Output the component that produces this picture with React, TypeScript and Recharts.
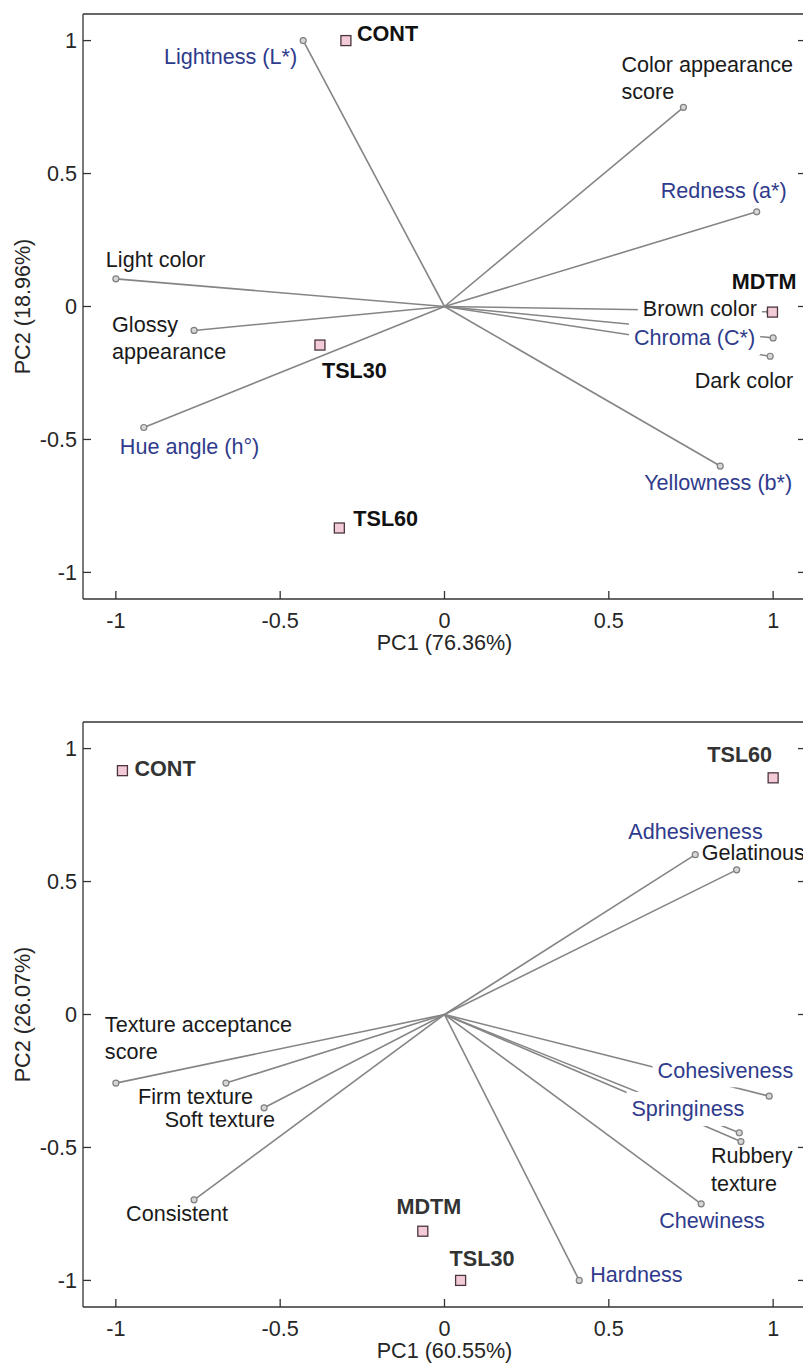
import React from 'react';
import { ScatterChart, Scatter, XAxis, YAxis, ReferenceLine } from 'recharts';

// ---- colour biplot (top) ----
const colorVars = [
  'Lightness (L*)', 'Color appearance\nscore', 'Redness (a*)', 'Light color', 'Glossy\nappearance',
  'Hue angle (h°)', 'Brown color', 'Chroma (C*)', 'Dark color', 'Yellowness (b*)',
];
const colorVarPC1 = [-0.43, 0.727, 0.95, -1.0, -0.762, -0.915, 0.99, 1.0, 0.991, 0.839];
const colorVarPC2 = [1.0, 0.749, 0.356, 0.104, -0.09, -0.455, -0.02, -0.118, -0.187, -0.6];
const colorVarKind = ['instrumental', 'sensory', 'instrumental', 'sensory', 'sensory',
  'instrumental', 'sensory', 'instrumental', 'sensory', 'instrumental'];

const colorSamples = ['CONT', 'MDTM', 'TSL30', 'TSL60'];
const colorSamplePC1 = [-0.3, 0.998, -0.379, -0.32];
const colorSamplePC2 = [1.0, -0.021, -0.145, -0.833];

// ---- texture biplot (bottom) ----
const textureVars = [
  'Adhesiveness', 'Gelatinous', 'Texture acceptance\nscore', 'Firm texture', 'Soft texture',
  'Consistent', 'Cohesiveness', 'Springiness', 'Rubbery\ntexture', 'Chewiness', 'Hardness',
];
const textureVarPC1 = [0.763, 0.889, -1.0, -0.665, -0.549, -0.762, 0.988, 0.897, 0.902, 0.781, 0.41];
const textureVarPC2 = [0.601, 0.544, -0.258, -0.258, -0.351, -0.697, -0.307, -0.445, -0.478, -0.712, -1.0];
const textureVarKind = ['instrumental', 'sensory', 'sensory', 'sensory', 'sensory',
  'sensory', 'instrumental', 'instrumental', 'sensory', 'instrumental', 'instrumental'];

const textureSamples = ['CONT', 'TSL60', 'MDTM', 'TSL30'];
const textureSamplePC1 = [-0.98, 1.0, -0.066, 0.049];
const textureSamplePC2 = [0.917, 0.89, -0.815, -1.0];

const axisTicks = [-1, -0.5, 0, 0.5, 1];

const FONT = '"Liberation Sans", Arial, Helvetica, sans-serif';
const FS = 21.6;
const LINE_H = 27.5;
const BLUE = '#2f3b8c';
const INK = '#1a1a1a';
const AXIS = '#333333';
const VEC = '#858585';

type Place = { a: 'start' | 'end' | 'middle'; dx: number; dy: number; bg?: boolean };

// label placement relative to each point (pixels)
const colorVarPlace: Record<string, Place> = {
  'Lightness (L*)': { a: 'end', dx: -6, dy: 16 },
  'Color appearance\nscore': { a: 'start', dx: -62, dy: -43 },
  'Redness (a*)': { a: 'end', dx: 30, dy: -21 },
  'Light color': { a: 'start', dx: -10, dy: -19 },
  'Glossy\nappearance': { a: 'start', dx: -82, dy: -6 },
  'Hue angle (h°)': { a: 'start', dx: -24, dy: 19 },
  'Brown color': { a: 'end', dx: -13, dy: -3, bg: true },
  'Chroma (C*)': { a: 'end', dx: -18, dy: 0, bg: true },
  'Dark color': { a: 'end', dx: 23, dy: 24 },
  'Yellowness (b*)': { a: 'end', dx: 72, dy: 16 },
};
const colorSamplePlace: Record<string, Place> = {
  CONT: { a: 'start', dx: 11, dy: -7 },
  MDTM: { a: 'end', dx: 24, dy: -31 },
  TSL30: { a: 'start', dx: 2, dy: 25 },
  TSL60: { a: 'start', dx: 14, dy: -10 },
};
const textureVarPlace: Record<string, Place> = {
  Adhesiveness: { a: 'start', dx: -67, dy: -23 },
  Gelatinous: { a: 'start', dx: -35, dy: -17 },
  'Texture acceptance\nscore': { a: 'start', dx: -11, dy: -59 },
  'Firm texture': { a: 'start', dx: -88, dy: 13 },
  'Soft texture': { a: 'end', dx: 11, dy: 12 },
  Consistent: { a: 'start', dx: -68, dy: 14 },
  Cohesiveness: { a: 'end', dx: 24, dy: -26, bg: true },
  Springiness: { a: 'end', dx: 5, dy: -24, bg: true },
  'Rubbery\ntexture': { a: 'start', dx: -30, dy: 14 },
  Chewiness: { a: 'start', dx: -42, dy: 17 },
  Hardness: { a: 'start', dx: 11, dy: -6 },
};
const textureSamplePlace: Record<string, Place> = {
  CONT: { a: 'start', dx: 12, dy: -2 },
  TSL60: { a: 'end', dx: -1, dy: -23 },
  MDTM: { a: 'middle', dx: 6, dy: -25 },
  TSL30: { a: 'start', dx: -11, dy: -22 },
};

let measureCtx: CanvasRenderingContext2D | null = null;
function textWidth(s: string, weight: string) {
  if (!measureCtx) measureCtx = document.createElement('canvas').getContext('2d');
  if (!measureCtx) return s.length * FS * 0.52;
  measureCtx.font = `${weight} ${FS}px ${FONT}`;
  return measureCtx.measureText(s).width;
}

function makeLabel(place: Record<string, Place>, bold: boolean, sampleColor: string) {
  return (props: any) => {
    const { cx, cy, payload } = props;
    const p = place[payload.name];
    if (!p) return <g />;
    const lines: string[] = payload.name.split('\n');
    const x = cx + p.dx;
    const base = cy + p.dy + 0.35 * FS;
    const weight = bold ? 'bold' : 'normal';
    const fill = bold ? sampleColor : payload.kind === 'instrumental' ? BLUE : INK;
    let bg = null;
    if (p.bg) {
      const w = Math.max(...lines.map((l) => textWidth(l, weight)));
      const left = p.a === 'start' ? x : p.a === 'end' ? x - w : x - w / 2;
      const pad = 5;
      bg = (
        <rect x={left - pad} y={base - 0.905 * FS - pad} width={w + pad * 2}
          height={(lines.length - 1) * LINE_H + 1.117 * FS + pad * 2} fill="#fff" />
      );
    }
    return (
      <g>
        {bg}
        <text textAnchor={p.a} fontSize={FS} fontWeight={weight} fill={fill} fontFamily={FONT}>
          {lines.map((l, i) => (
            <tspan key={i} x={x} y={base + i * LINE_H}>{l}</tspan>
          ))}
        </text>
      </g>
    );
  };
}

const endCircle = (props: any) => (
  <circle cx={props.cx} cy={props.cy} r={3} fill="#d6d6d6" stroke="#7f7f7f" strokeWidth={1.2} />
);
const sampleSquare = (props: any) => (
  <rect x={props.cx - 5} y={props.cy - 5} width={10} height={10} fill="#f3cbd6" stroke="#4b3540" strokeWidth={1.3} />
);

interface BiplotProps {
  vars: string[]; pc1: number[]; pc2: number[]; kinds: string[];
  samples: string[]; s1: number[]; s2: number[];
  varPlace: Record<string, Place>; samplePlace: Record<string, Place>;
  xLabel: string; yLabel: string; top: number; bottom: number; sampleColor: string;
}

function Biplot(props: BiplotProps) {
  const { vars, pc1, pc2, kinds, samples, s1, s2, varPlace, samplePlace, xLabel, yLabel, top, bottom, sampleColor } = props;
  const varData = vars.map((name, i) => ({ name, x: pc1[i], y: pc2[i], kind: kinds[i] }));
  const sampleData = samples.map((name, i) => ({ name, x: s1[i], y: s2[i], kind: 'sample' }));
  const dom: [number, number] = [-1.1, 1.1];
  const tickStyle = { fontSize: FS, fill: '#262626', fontFamily: FONT };

  return (
    <ScatterChart width={830} height={684} margin={{ top, right: 14, bottom, left: 0 }}>
      <XAxis type="number" dataKey="x" domain={dom} ticks={axisTicks} allowDataOverflow
        height={60} tickSize={-8} tickMargin={22} tick={tickStyle}
        stroke={AXIS} strokeWidth={1.3} tickFormatter={(v) => String(v)}
        label={{
          content: ({ viewBox }: any) => (
            <text x={viewBox.x + viewBox.width / 2} y={viewBox.y + 36 + 0.716 * FS} textAnchor="middle"
              fontSize={FS} fill="#262626" fontFamily={FONT}>{xLabel}</text>
          ),
        }} />
      <XAxis xAxisId="top" orientation="top" type="number" domain={dom} ticks={axisTicks} allowDataOverflow
        height={1} tickSize={-8} stroke={AXIS} strokeWidth={1.3} tickFormatter={() => ''} />
      <YAxis type="number" dataKey="y" domain={dom} ticks={axisTicks} allowDataOverflow
        width={83} tickSize={-8} tickMargin={14} tick={tickStyle}
        stroke={AXIS} strokeWidth={1.3} tickFormatter={(v) => String(v)}
        label={{
          content: ({ viewBox }: any) => {
            const lx = viewBox.x + 22;
            const ly = viewBox.y + viewBox.height / 2;
            return (
              <text x={lx} y={ly} dy={0.35 * FS} transform={`rotate(-90, ${lx}, ${ly})`} textAnchor="middle"
                fontSize={FS} fill="#262626" fontFamily={FONT}>{yLabel}</text>
            );
          },
        }} />
      <YAxis yAxisId="right" orientation="right" type="number" domain={dom} ticks={axisTicks} allowDataOverflow
        width={10} tickSize={-8} axisLine={false} stroke={AXIS} strokeWidth={1.3} tickFormatter={() => ''} />

      {varData.map((d) => (
        <ReferenceLine key={d.name} segment={[{ x: 0, y: 0 }, { x: d.x, y: d.y }]}
          stroke={VEC} strokeWidth={1.6} />
      ))}

      <Scatter data={varData} shape={makeLabel(varPlace, false, sampleColor)} isAnimationActive={false} />
      <Scatter data={varData} shape={endCircle} isAnimationActive={false} />
      <Scatter data={sampleData} shape={sampleSquare} isAnimationActive={false} />
      <Scatter data={sampleData} shape={makeLabel(samplePlace, true, sampleColor)} isAnimationActive={false} />
    </ScatterChart>
  );
}

export default function App() {
  return (
    <div style={{ position: 'absolute', left: 0, top: 0, width: 803, height: 1368, overflow: 'hidden', background: '#fff', fontFamily: FONT }}>
      <Biplot vars={colorVars} pc1={colorVarPC1} pc2={colorVarPC2} kinds={colorVarKind}
        samples={colorSamples} s1={colorSamplePC1} s2={colorSamplePC2}
        varPlace={colorVarPlace} samplePlace={colorSamplePlace}
        xLabel="PC1 (76.36%)" yLabel="PC2 (18.96%)" top={13} bottom={25} sampleColor="#111111" />
      <Biplot vars={textureVars} pc1={textureVarPC1} pc2={textureVarPC2} kinds={textureVarKind}
        samples={textureSamples} s1={textureSamplePC1} s2={textureSamplePC2}
        varPlace={textureVarPlace} samplePlace={textureSamplePlace}
        xLabel="PC1 (60.55%)" yLabel="PC2 (26.07%)" top={37} bottom={1} sampleColor="#333333" />
    </div>
  );
}
